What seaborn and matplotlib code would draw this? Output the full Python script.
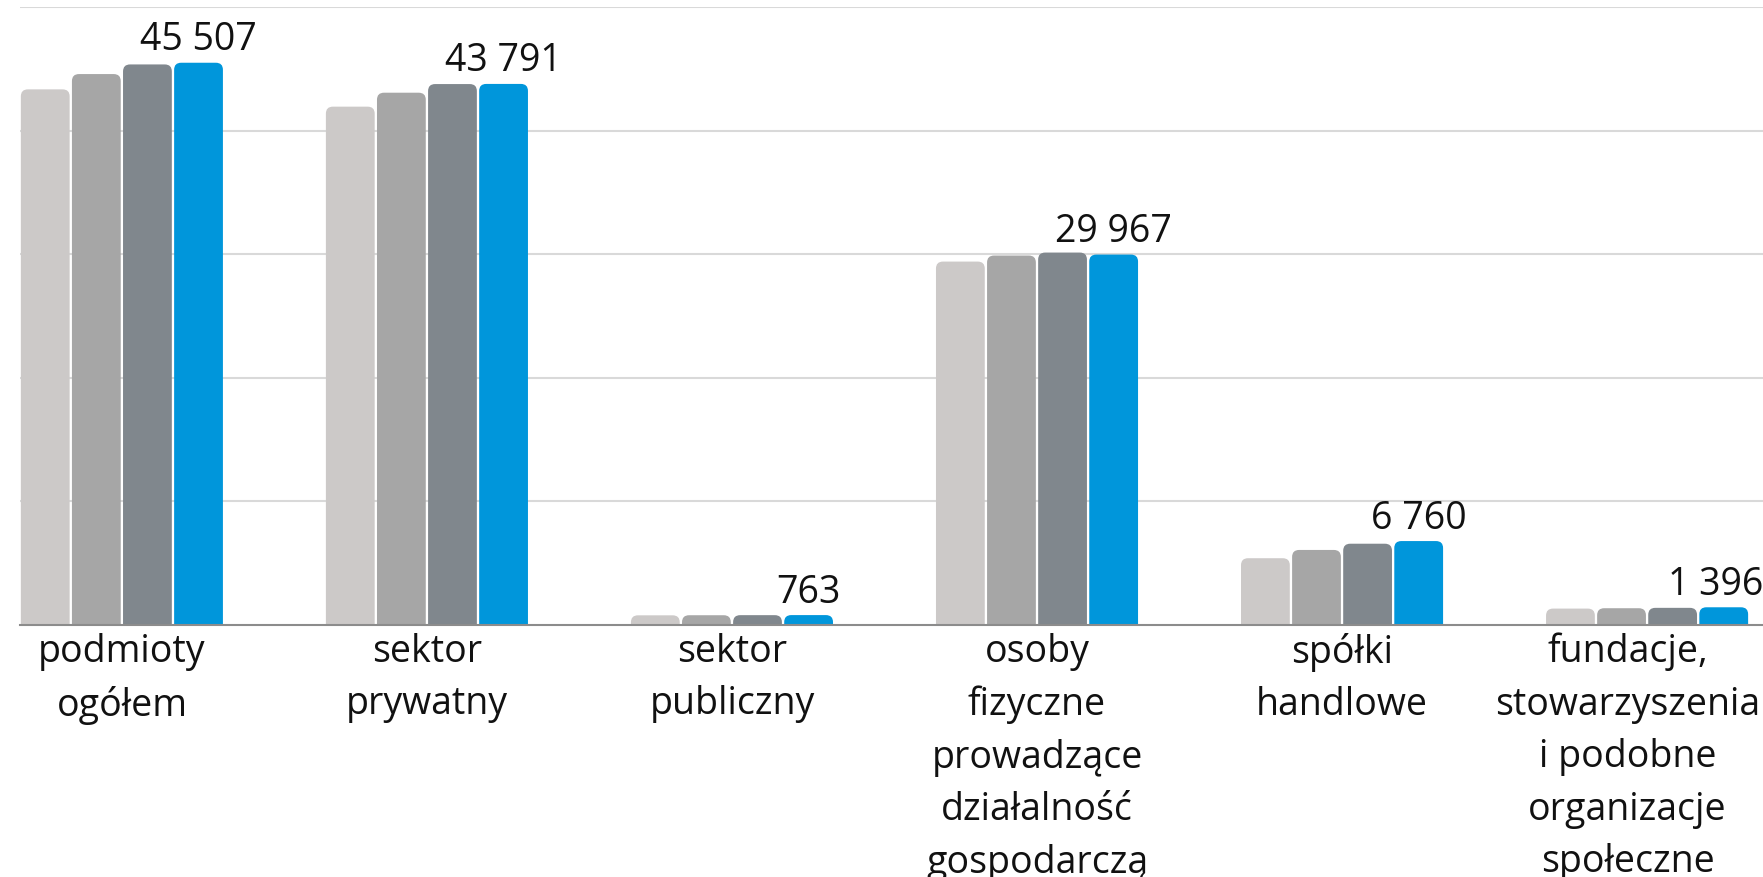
import pandas as pd
import numpy as np
import matplotlib
matplotlib.use('Agg')
import matplotlib.pyplot as plt
import matplotlib.transforms as mtransforms
from matplotlib.patches import FancyBboxPatch
import seaborn as sns

categories = ['podmioty\nogółem', 'sektor\nprywatny', 'sektor\npubliczny',
              'osoby\nfizyczne\nprowadzące\ndziałalność\ngospodarczą',
              'spółki\nhandlowe',
              'fundacje,\nstowarzyszenia\ni podobne\norganizacje\nspołeczne']
series = ['2019', '2020', '2021', '2022']
vals_2019 = [43350, 41950, 745, 29400, 5370, 1290]
vals_2020 = [44590, 43080, 752, 29890, 6040, 1320]
vals_2021 = [45370, 43780, 758, 30130, 6545, 1350]
vals_2022 = [45507, 43791, 763, 29967, 6760, 1396]
colors = ['#CCC9C8', '#A6A6A6', '#80878D', '#0096DB']

rows = []
for s, vals in zip(series, [vals_2019, vals_2020, vals_2021, vals_2022]):
    for c, v in zip(categories, vals):
        rows.append({'kategoria': c, 'rok': s, 'liczba': v})
df = pd.DataFrame(rows)

sns.set_theme(style='white')
plt.rcParams['font.family'] = ['Open Sans', 'DejaVu Sans']

fig = plt.figure(figsize=(17.63, 8.77), dpi=100)
ax = fig.add_axes([20 / 1763, 0.2879, 1 - 20 / 1763, 0.9917 - 0.2879])

sns.barplot(data=df, x='kategoria', y='liczba', hue='rok', palette=colors,
            width=0.67, gap=0.045, legend=False, ax=ax, saturation=1)

# rounded tops on the bars
r_x = 0.023
aspect = 24600
last_tops = []
for k, cont in enumerate(ax.containers):
    for p in cont.patches:
        x, w, h = p.get_x(), p.get_width(), p.get_height()
        fc = p.get_facecolor()
        p.remove()
        rb = FancyBboxPatch((x, -r_x * aspect * 2), w, h + r_x * aspect * 2,
                            boxstyle=f'round,pad=0,rounding_size={r_x}',
                            mutation_aspect=aspect, facecolor=fc,
                            edgecolor='none', zorder=2)
        ax.add_patch(rb)
        if k == len(ax.containers) - 1:
            last_tops.append((x + w / 2, h))

for i, (xc, h) in enumerate(last_tops):
    lab = f'{vals_2022[i]:,}'.replace(',', ' ')
    if i == len(last_tops) - 1:
        ax.annotate(lab, (5.38, h), xytext=(0, 2.5), textcoords='offset points',
                    ha='right', va='bottom', fontsize=27, color='#111111')
    else:
        ax.annotate(lab, (xc, h), xytext=(0, 2.5), textcoords='offset points',
                    ha='center', va='bottom', fontsize=27, color='#111111')

ax.set_ylim(0, 50000)
ax.set_xlim(-0.334, 5.38)
ax.set_yticks([10000, 20000, 30000, 40000, 50000])
ax.set_yticklabels([])
ax.yaxis.grid(True, color='#D9D9D9', linewidth=1.5)
ax.set_axisbelow(True)
for sp in ['left', 'right', 'top']:
    ax.spines[sp].set_visible(False)
ax.spines['bottom'].set_color('#8C8C8C')
ax.spines['bottom'].set_linewidth(1.5)
ax.spines['bottom'].set_zorder(3)
ax.tick_params(axis='x', length=0, pad=6, labelsize=27, labelcolor='#111111')
ax.tick_params(axis='y', length=0)
ax.set_xlabel('')
ax.set_ylabel('')
for t in ax.get_xticklabels():
    t.set_linespacing(1.5)
    t.set_va('top')
# shift last label left so it fits on the figure
last = ax.get_xticklabels()[-1]
last.set_transform(last.get_transform() +
                   mtransforms.ScaledTranslation(-14 / 72, 0, fig.dpi_scale_trans))

fig.savefig('out.png', dpi=100)
